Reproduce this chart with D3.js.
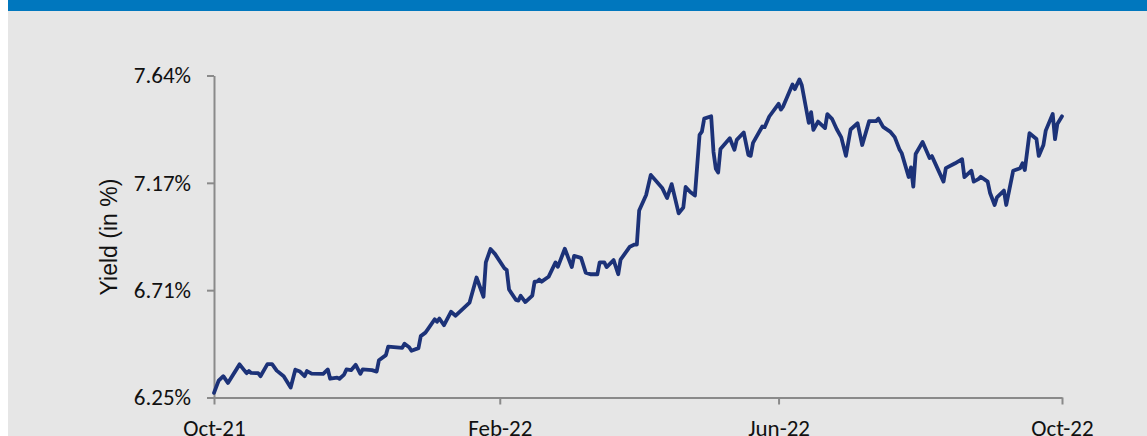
<!DOCTYPE html>
<meta charset="utf-8">
<script src="https://d3js.org/d3.v7.min.js"></script>
<style>
  body { margin: 0; background: #fff; }
  text { font-family: Carlito, Lato, "Open Sans", sans-serif; fill: #111; }
</style>
<div id="chart"></div>
<script>
// Yield series
const dates = [
  "2021-10-01","2021-10-03","2021-10-05","2021-10-07","2021-10-12","2021-10-15","2021-10-16","2021-10-17","2021-10-20","2021-10-21",
  "2021-10-24","2021-10-26","2021-10-28","2021-10-31","2021-11-03","2021-11-05","2021-11-07","2021-11-09","2021-11-10","2021-11-12",
  "2021-11-17","2021-11-19","2021-11-20","2021-11-23","2021-11-24","2021-11-26","2021-11-27","2021-11-29","2021-12-01","2021-12-03",
  "2021-12-04","2021-12-08","2021-12-10","2021-12-11","2021-12-14","2021-12-15","2021-12-21","2021-12-22","2021-12-24","2021-12-25",
  "2021-12-28","2021-12-29","2021-12-31","2022-01-01","2022-01-04","2022-01-05","2022-01-06","2022-01-08","2022-01-11","2022-01-13",
  "2022-01-19","2022-01-22","2022-01-25","2022-01-26","2022-01-28","2022-01-30","2022-02-03","2022-02-04","2022-02-05","2022-02-08",
  "2022-02-09","2022-02-10","2022-02-12","2022-02-15","2022-02-16","2022-02-17","2022-02-18","2022-02-19","2022-02-22","2022-02-25",
  "2022-02-26","2022-03-01","2022-03-04","2022-03-05","2022-03-08","2022-03-10","2022-03-12","2022-03-15","2022-03-16","2022-03-18",
  "2022-03-19","2022-03-22","2022-03-24","2022-03-25","2022-03-29","2022-03-31","2022-04-01","2022-04-02","2022-04-05","2022-04-07",
  "2022-04-12","2022-04-14","2022-04-16","2022-04-19","2022-04-21","2022-04-22","2022-04-24","2022-04-26","2022-04-28","2022-04-29",
  "2022-04-30","2022-05-03","2022-05-04","2022-05-05","2022-05-06","2022-05-07","2022-05-11","2022-05-13","2022-05-14","2022-05-17",
  "2022-05-19","2022-05-20","2022-05-21","2022-05-25","2022-05-26","2022-05-28","2022-06-01","2022-06-02","2022-06-03","2022-06-07",
  "2022-06-08","2022-06-10","2022-06-11","2022-06-14","2022-06-15","2022-06-16","2022-06-18","2022-06-21","2022-06-22","2022-06-24",
  "2022-06-26","2022-06-28","2022-06-30","2022-07-02","2022-07-05","2022-07-07","2022-07-10","2022-07-13","2022-07-14","2022-07-16",
  "2022-07-19","2022-07-21","2022-07-23","2022-07-24","2022-07-27","2022-07-28","2022-07-29","2022-07-30","2022-08-02","2022-08-05",
  "2022-08-06","2022-08-11","2022-08-12","2022-08-16","2022-08-19","2022-08-20","2022-08-23","2022-08-24","2022-08-26","2022-08-27",
  "2022-08-30","2022-08-31","2022-09-02","2022-09-03","2022-09-06","2022-09-07","2022-09-10","2022-09-13","2022-09-14","2022-09-15",
  "2022-09-17","2022-09-20","2022-09-21","2022-09-23","2022-09-24","2022-09-27","2022-09-28","2022-09-29","2022-10-01"
];
const yields = [
  6.270,6.323,6.342,6.313,6.393,6.355,6.364,6.356,6.355,6.342,
  6.394,6.394,6.366,6.342,6.293,6.370,6.362,6.342,6.364,6.353,
  6.352,6.371,6.331,6.336,6.331,6.349,6.371,6.368,6.391,6.352,
  6.371,6.368,6.362,6.411,6.433,6.470,6.464,6.482,6.467,6.452,
  6.463,6.515,6.530,6.544,6.588,6.577,6.591,6.562,6.620,6.603,
  6.660,6.768,6.685,6.833,6.891,6.869,6.808,6.800,6.716,6.671,
  6.668,6.689,6.662,6.690,6.750,6.750,6.759,6.750,6.771,6.833,
  6.814,6.892,6.813,6.861,6.853,6.789,6.782,6.782,6.833,6.833,
  6.813,6.843,6.782,6.845,6.901,6.910,6.910,7.057,7.124,7.211,
  7.153,7.111,7.171,7.045,7.070,7.159,7.137,7.122,7.384,7.398,
  7.454,7.464,7.310,7.237,7.221,7.323,7.369,7.319,7.362,7.394,
  7.297,7.293,7.349,7.420,7.417,7.463,7.518,7.493,7.507,7.601,
  7.581,7.623,7.598,7.436,7.482,7.405,7.441,7.413,7.473,7.453,
  7.409,7.373,7.293,7.407,7.434,7.340,7.443,7.443,7.454,7.418,
  7.398,7.374,7.322,7.305,7.202,7.243,7.160,7.301,7.353,7.284,
  7.292,7.182,7.240,7.261,7.279,7.201,7.229,7.182,7.193,7.203,
  7.182,7.134,7.081,7.114,7.143,7.081,7.229,7.240,7.261,7.232,
  7.391,7.366,7.293,7.340,7.402,7.474,7.365,7.431,7.464
];

const xTicks = ["2021-10-01", "2022-02-01", "2022-06-01", "2022-10-01"];
const yMin = 6.25, yMax = 7.64;
const yTickLabels = ["6.25%", "6.71%", "7.17%", "7.64%"];

const W = 1147, H = 436;
const parse = d3.timeParse("%Y-%m-%d");
const data = dates.map((d, i) => ({date: parse(d), y: yields[i]}));

const svg = d3.select("#chart").append("svg")
  .attr("width", W).attr("height", H);

// panel background + top band
svg.append("rect").attr("x", 8).attr("y", 0).attr("width", W - 8).attr("height", H).attr("fill", "#e6e6e6");
svg.append("rect").attr("x", 8).attr("y", 0).attr("width", W - 8).attr("height", 11).attr("fill", "#0077be");

const x = d3.scaleTime()
  .domain([parse(xTicks[0]), parse(xTicks[xTicks.length - 1])])
  .range([214, 1062]);

const y = d3.scaleLinear()
  .domain([yMin, yMax])
  .range([397.5, 75.5]);

const yTicks = d3.range(4).map(i => yMin + i * (yMax - yMin) / 3);

// axes
svg.append("g")
  .attr("transform", "translate(0,397.5)")
  .call(d3.axisBottom(x)
    .tickValues(xTicks.map(parse))
    .tickFormat(d3.timeFormat("%b-%y"))
    .tickSize(7).tickSizeOuter(0).tickPadding(15));

svg.append("g")
  .attr("transform", "translate(214,0)")
  .call(d3.axisLeft(y)
    .tickValues(yTicks)
    .tickFormat((d, i) => yTickLabels[i])
    .tickSize(7).tickSizeOuter(0).tickPadding(16));

svg.selectAll(".domain, .tick line").attr("stroke", "#8a8a8a").attr("stroke-width", 2);
svg.selectAll(".tick text").attr("font-size", 23).style("font-family", null).attr("fill", "#111");

// y axis title
svg.append("text")
  .attr("transform", "translate(117,237) rotate(-90)")
  .attr("text-anchor", "middle")
  .attr("font-size", 23)
  .style("font-family", "'Liberation Sans', Arial, sans-serif")
  .text("Yield (in %)");

// the series
const line = d3.line()
  .x(d => x(d.date))
  .y(d => y(d.y));

svg.append("path")
  .datum(data)
  .attr("fill", "none")
  .attr("stroke", "#1c3278")
  .attr("stroke-width", 3.8)
  .attr("stroke-linejoin", "round")
  .attr("stroke-linecap", "round")
  .attr("d", line);
</script>
